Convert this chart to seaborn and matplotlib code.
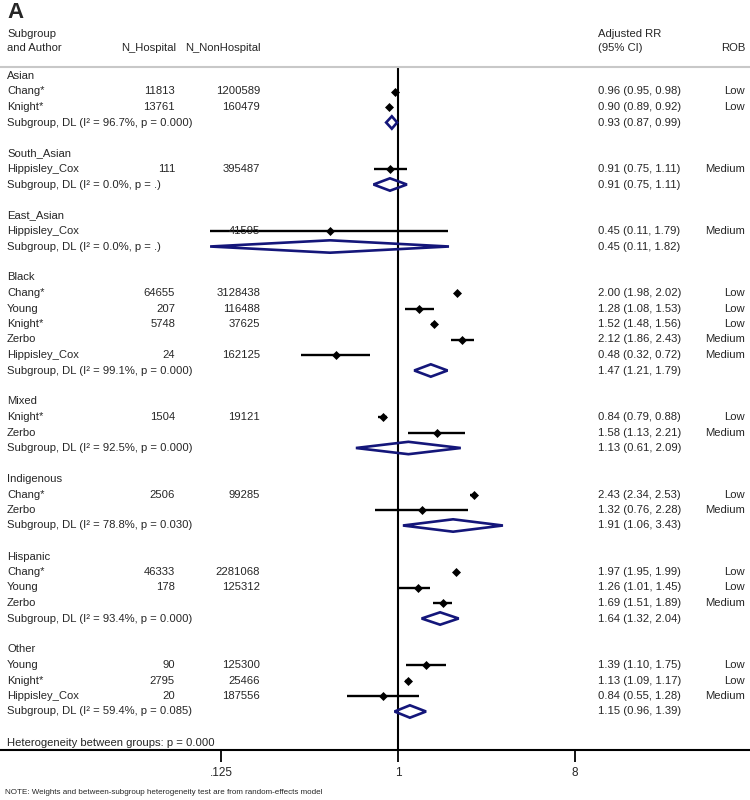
import matplotlib
matplotlib.use("Agg")
import matplotlib.pyplot as plt
import numpy as np
import pandas as pd
import seaborn as sns

# subgroups, in order of appearance
groups = ["Asian", "South_Asian", "East_Asian", "Black", "Mixed", "Indigenous", "Hispanic", "Other"]

# study level rows
study_group = ["Asian", "Asian",
               "South_Asian",
               "East_Asian",
               "Black", "Black", "Black", "Black", "Black",
               "Mixed", "Mixed",
               "Indigenous", "Indigenous",
               "Hispanic", "Hispanic", "Hispanic",
               "Other", "Other", "Other"]
study_author = ["Chang*", "Knight*",
                "Hippisley_Cox",
                "Hippisley_Cox",
                "Chang*", "Young", "Knight*", "Zerbo", "Hippisley_Cox",
                "Knight*", "Zerbo",
                "Chang*", "Zerbo",
                "Chang*", "Young", "Zerbo",
                "Young", "Knight*", "Hippisley_Cox"]
n_hospital = ["11813", "13761", "111", "", "64655", "207", "5748", "", "24",
              "1504", "", "2506", "", "46333", "178", "", "90", "2795", "20"]
n_nonhospital = ["1200589", "160479", "395487", "41595", "3128438", "116488", "37625", "", "162125",
                 "19121", "", "99285", "", "2281068", "125312", "", "125300", "25466", "187556"]
study_rr = [0.96, 0.90, 0.91, 0.45, 2.00, 1.28, 1.52, 2.12, 0.48,
            0.84, 1.58, 2.43, 1.32, 1.97, 1.26, 1.69, 1.39, 1.13, 0.84]
study_lo = [0.95, 0.89, 0.75, 0.11, 1.98, 1.08, 1.48, 1.86, 0.32,
            0.79, 1.13, 2.34, 0.76, 1.95, 1.01, 1.51, 1.10, 1.09, 0.55]
study_hi = [0.98, 0.92, 1.11, 1.79, 2.02, 1.53, 1.56, 2.43, 0.72,
            0.88, 2.21, 2.53, 2.28, 1.99, 1.45, 1.89, 1.75, 1.17, 1.28]
study_rob = ["Low", "Low", "Medium", "Medium", "Low", "Low", "Low", "Medium", "Medium",
             "Low", "Medium", "Low", "Medium", "Low", "Low", "Medium", "Low", "Low", "Medium"]

# pooled subgroup estimates
sub_i2 = ["96.7%", "0.0%", "0.0%", "99.1%", "92.5%", "78.8%", "93.4%", "59.4%"]
sub_p = ["0.000", ".", ".", "0.000", "0.000", "0.030", "0.000", "0.085"]
sub_rr = [0.93, 0.91, 0.45, 1.47, 1.13, 1.91, 1.64, 1.15]
sub_lo = [0.87, 0.75, 0.11, 1.21, 0.61, 1.06, 1.32, 0.96]
sub_hi = [0.99, 1.11, 1.82, 1.79, 2.09, 3.43, 2.04, 1.39]

het_text = "Heterogeneity between groups: p = 0.000"
note_text = "NOTE: Weights and between-subgroup heterogeneity test are from random-effects model"
tick_values = [0.125, 1, 8]
tick_labels = [".125", "1", "8"]

navy = "#14167a"

# lay out rows
studies = pd.DataFrame({"group": study_group, "author": study_author, "n_h": n_hospital,
                        "n_nh": n_nonhospital, "rr": study_rr, "lo": study_lo,
                        "hi": study_hi, "rob": study_rob})
rows = []
study_rows = []
sub_rows = []
r = 0
for g in groups:
    rows.append((r, g))
    r += 1
    for i in studies.index[studies["group"] == g]:
        study_rows.append(r)
        r += 1
    sub_rows.append(r)
    r += 1
    r += 1
het_row = r
studies["row"] = study_rows

sns.set_theme(style="white")
plt.rcParams["font.family"] = ["Liberation Sans", "DejaVu Sans"]

fig = plt.figure(figsize=(7.5, 8), dpi=100)
ax = fig.add_axes([0, 50 / 800, 1, 750 / 800])

row_px = 15.5
top_px = 76
ax.set_xscale("log", base=2)
ax.set_xlim(2 ** (-398 / 59), 2 ** ((750 - 398) / 59))
ax.set_ylim((750 - top_px) / row_px, -top_px / row_px)

fs = 8.1
tr = ax.get_yaxis_transform()

def px(x):
    return x / 750

# header
ax.text(px(7), (34 - top_px) / row_px, "Subgroup", transform=tr, fontsize=fs, va="center")
ax.text(px(7), (48 - top_px) / row_px, "and Author", transform=tr, fontsize=fs, va="center")
ax.text(px(176), (48 - top_px) / row_px, "N_Hospital", transform=tr, fontsize=fs, va="center", ha="right")
ax.text(px(261), (48 - top_px) / row_px, "N_NonHospital", transform=tr, fontsize=fs, va="center", ha="right")
ax.text(px(598), (34 - top_px) / row_px, "Adjusted RR", transform=tr, fontsize=fs, va="center")
ax.text(px(598), (48 - top_px) / row_px, "(95% CI)", transform=tr, fontsize=fs, va="center")
ax.text(px(745), (48 - top_px) / row_px, "ROB", transform=tr, fontsize=fs, va="center", ha="right")
sep = (67 - top_px) / row_px
ax.axhline(sep, color="#c8c8c8", lw=1.5)

# group headers
for rr_, g in rows:
    ax.text(px(7), rr_, g, transform=tr, fontsize=fs, va="center")

# study rows
for _, s in studies.iterrows():
    ax.text(px(7), s["row"], s["author"], transform=tr, fontsize=fs, va="center")
    ax.text(px(175), s["row"], s["n_h"], transform=tr, fontsize=fs, va="center", ha="right")
    ax.text(px(260), s["row"], s["n_nh"], transform=tr, fontsize=fs, va="center", ha="right")
    ax.text(px(598), s["row"], "%.2f (%.2f, %.2f)" % (s["rr"], s["lo"], s["hi"]),
            transform=tr, fontsize=fs, va="center")
    ax.text(px(745), s["row"], s["rob"], transform=tr, fontsize=fs, va="center", ha="right")

ax.hlines(studies["row"], studies["lo"], studies["hi"], color="black", lw=1.7, zorder=2)
sns.scatterplot(data=studies, x="rr", y="row", marker="D", color="black", s=21,
                linewidth=0, ax=ax, zorder=3, legend=False)

# subgroup diamonds
h = 0.4
for k, yr in enumerate(sub_rows):
    ax.text(px(7), yr, "Subgroup, DL (I² = %s, p = %s)" % (sub_i2[k], sub_p[k]),
            transform=tr, fontsize=fs, va="center")
    ax.text(px(598), yr, "%.2f (%.2f, %.2f)" % (sub_rr[k], sub_lo[k], sub_hi[k]),
            transform=tr, fontsize=fs, va="center")
    ax.fill([sub_lo[k], sub_rr[k], sub_hi[k], sub_rr[k]], [yr, yr - h, yr, yr + h],
            facecolor="none", edgecolor=navy, lw=1.9, zorder=4)

ax.text(px(7), het_row, het_text, transform=tr, fontsize=fs, va="center")

# null line
ax.vlines(1, sep, (750 - top_px) / row_px, color="black", lw=1.5, zorder=1)

# axis
ax.set_xticks(tick_values)
ax.set_xticklabels(tick_labels)
ax.xaxis.set_minor_locator(matplotlib.ticker.NullLocator())
ax.set_yticks([])
ax.set_xlabel("")
ax.set_ylabel("")
for side in ["top", "left", "right"]:
    ax.spines[side].set_visible(False)
ax.spines["bottom"].set_color("black")
ax.spines["bottom"].set_linewidth(1.5)
ax.tick_params(axis="x", direction="out", length=8.5, width=1.3, color="black",
               labelsize=8.5, pad=4, bottom=True)

fig.text(7 / 750, 1 - 12 / 800, "A", fontsize=16, fontweight="bold", va="center", ha="left")
fig.text(5 / 750, 1 - 793 / 800, note_text, fontsize=5.8, va="center", ha="left")

fig.savefig("out.png", dpi=100)
plt.close(fig)
